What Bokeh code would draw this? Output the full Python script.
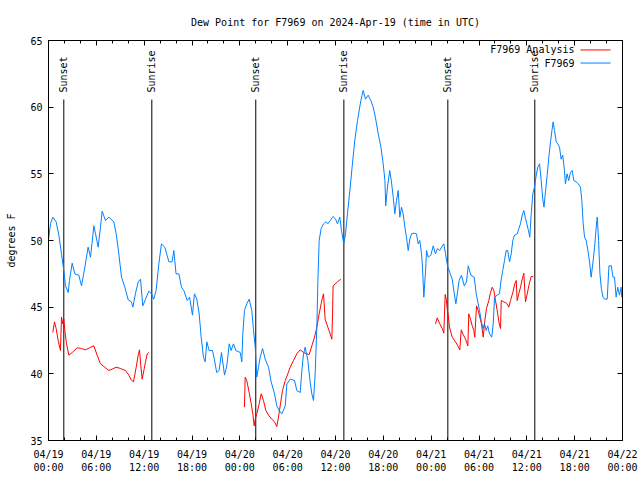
import math
from bokeh.plotting import figure
from bokeh.models import FixedTicker, LinearAxis, Range1d, Label, CustomJSTickFormatter
from bokeh.embed import file_html
from bokeh.resources import INLINE
from bokeh.core.properties import value

# ---------------- data (hours since 2024-04-19 00:00 UTC, deg F) ----------------
obs_hours = [0.0, 0.25, 0.54, 0.96, 1.3, 1.63, 1.92, 2.13, 2.47, 2.63, 2.97, 3.3, 3.8, 4.14, 4.56, 4.97,
             5.27, 5.69, 5.9, 6.23, 6.52, 6.73, 7.15, 7.57, 8.2, 8.49, 8.82, 9.16, 9.57, 10.0, 10.4, 10.58,
             10.9, 11.25, 11.54, 11.83, 12.17, 12.58, 12.92, 13.2, 13.5, 13.84, 14.17, 14.59, 15.1, 15.5,
             15.72, 16.0, 16.35, 16.68, 16.97, 17.4, 17.7, 18.06, 18.3, 18.6, 18.9, 19.15, 19.44, 19.65,
             19.86, 20.15, 20.57, 20.8, 21.1, 21.4, 21.7, 22.08, 22.37, 22.67, 22.9, 23.2, 23.5, 24.05,
             24.25, 24.37, 24.58, 24.87, 25.17, 25.5, 25.7, 25.93, 26.13, 26.34, 26.55, 26.85, 27.18, 27.6,
             27.93, 28.35, 28.64, 28.94, 29.27, 29.7, 29.9, 30.32, 30.86, 31.15, 31.57, 31.78, 31.99, 32.2,
             32.53, 32.82, 33.03, 33.24, 33.45, 33.66, 33.78, 33.95, 34.2, 34.5, 34.79, 35.04, 35.34, 35.63,
             35.71, 36.0, 36.25, 36.54, 36.75, 37.04, 37.26, 37.5, 37.8, 38.1, 38.42, 38.76, 39.18, 39.47,
             39.76, 40.1, 40.43, 40.73, 41.0, 41.36, 41.7, 41.98, 42.2, 42.3, 42.52, 42.8, 43.0, 43.24,
             43.44, 43.65, 43.86, 44.07, 44.28, 44.49, 44.7, 44.9, 45.12, 45.32, 45.54, 45.87, 46.16, 46.37,
             46.57, 46.79, 46.91, 47.08, 47.3, 47.42, 47.63, 47.96, 48.26, 48.54, 48.79, 49.08, 49.3, 49.59,
             49.8, 50.05, 50.34, 50.64, 50.9, 51.1, 51.3, 51.5, 51.8, 52.15, 52.43, 52.65, 52.97, 53.4,
             53.65, 53.85, 54.06, 54.28, 54.48, 54.69, 54.9, 55.1, 55.32, 55.6, 55.78, 55.95, 56.28, 56.57,
             56.79, 56.98, 57.2, 57.41, 57.6, 57.83, 58.04, 58.24, 58.45, 58.8, 59.0, 59.2, 59.42, 59.62,
             59.8, 60.0, 60.2, 60.37, 60.55, 60.75, 60.96, 61.18, 61.38, 61.6, 61.8, 62.0, 62.15, 62.35,
             62.55, 62.76, 62.97, 63.15, 63.3, 63.47, 63.69, 63.88, 64.1, 64.3, 64.5, 64.72, 64.84, 65.05,
             65.25, 65.47, 65.68, 65.9, 66.18, 66.47, 66.73, 66.9, 67.07, 67.24, 67.45, 67.66, 67.87, 68.07,
             68.3, 68.5, 68.7, 68.83, 69.0, 69.17, 69.35, 69.56, 69.75, 70.08, 70.3, 70.6, 70.8, 71.0, 71.2,
             71.4, 71.62, 71.83, 71.9]
obs_dewpt = [50.05, 51.25, 51.75, 51.4, 50.4, 49.0, 47.75, 46.6, 46.1, 47.0, 48.3, 47.5, 47.4, 46.6, 48.0, 49.5,
             48.75, 51.1, 50.5, 49.5, 51.0, 52.2, 51.5, 51.75, 51.4, 50.5, 49.0, 47.25, 46.5, 45.55, 45.4, 45.0,
             46.0, 46.9, 47.1, 45.1, 45.6, 46.2, 46.0, 45.6, 46.25, 48.25, 49.75, 49.5, 48.4, 48.4,
             49.25, 47.5, 47.5, 46.5, 46.25, 45.5, 45.75, 44.4, 46.0, 45.6, 44.5, 42.75, 41.25, 40.9,
             42.4, 41.75, 41.75, 41.1, 40.1, 40.25, 41.6, 39.9, 40.6, 42.25, 41.75, 42.25, 41.75, 41.6,
             40.9, 43.0, 44.75, 45.25, 45.6, 44.75, 43.4, 42.0, 39.75, 40.5, 41.25, 41.9, 41.1, 40.5,
             39.4, 38.5, 37.6, 37.25, 37.0, 37.6, 39.25, 39.6, 39.5, 38.75, 38.6, 40.25, 41.5, 42.0,
             41.0, 39.4, 38.5, 38.0, 40.0, 43.5, 46.75, 50.0, 50.9, 51.25, 51.4, 51.25, 51.5, 51.75,
             51.8, 51.6, 51.25, 51.75, 50.75, 49.75, 50.5, 52.0, 53.75, 55.6, 57.5, 59.0, 60.5, 61.25,
             60.6, 60.9, 60.5, 60.0, 59.25, 58.0, 57.0, 55.75, 54.5, 52.6, 54.0, 55.25, 54.5, 53.25,
             52.0, 53.0, 53.75, 51.75, 52.5, 52.0, 51.0, 50.25, 49.25, 50.1, 50.5, 50.55, 50.5, 49.75,
             50.0, 49.0, 48.0, 45.75, 47.75, 49.25, 48.75, 48.9, 49.6, 49.0, 49.4, 49.25, 49.5, 49.75,
             49.0, 48.1, 47.6, 47.1, 46.0, 45.25, 46.1, 47.0, 47.4, 46.6, 46.9, 48.1, 47.4, 47.25,
             46.0, 45.4, 44.75, 44.0, 43.4, 43.75, 43.25, 43.6, 43.0, 42.75, 43.75, 45.75, 45.9, 46.0,
             47.1, 47.75, 48.5, 49.25, 49.25, 48.4, 49.0, 50.0, 50.4, 50.5, 50.9, 51.25, 51.9, 52.25,
             51.75, 51.25, 50.75, 50.25, 52.0, 53.5, 54.0, 54.9, 55.5, 55.75, 54.5, 53.1, 52.5, 53.75,
             54.9, 56.25, 57.4, 58.25, 58.9, 58.25, 57.4, 57.25, 57.0, 56.1, 56.4, 55.25, 54.25, 55.0,
             54.5, 55.1, 55.25, 54.5, 54.4, 54.25, 54.0, 53.0, 51.25, 50.25, 50.0, 49.25, 48.4, 47.25,
             48.4, 49.5, 51.0, 51.75, 50.0, 47.5, 46.4, 45.75, 45.6, 45.6, 48.1, 48.1, 47.25, 47.25, 45.75,
             46.5, 45.9, 46.5, 45.75]

nan = float("nan")
ana_hours = [0.54, 0.75, 0.96, 1.21, 1.5, 1.63, 1.8, 1.92, 2.05, 2.26, 2.55, 2.97, 3.6, 4.14, 4.64, 5.14,
             5.69, 6.1, 6.52, 7.06, 7.57, 7.98, 8.49, 9.03, 9.66, 10.08, 10.37, 10.66, 11.0, 11.25, 11.42,
             11.58, 11.75, 11.96, 12.17, 12.38, 12.58,
             18.0,
             24.58, 24.67, 24.87, 25.17, 25.43, 25.63, 25.8, 25.93, 26.13, 26.43, 26.68, 26.97, 27.26, 27.6,
             28.0, 28.35, 28.64, 28.85, 29.1, 29.35, 29.7, 30.02, 30.32, 30.73, 31.15, 31.57, 31.99, 32.4,
             32.7, 33.03, 33.37, 33.66, 33.95, 34.2, 34.37, 34.5, 34.7, 35.04, 35.33, 35.54, 35.63, 35.7,
             36.25, 36.67,
             42.0,
             48.54, 48.76, 49.08, 49.39, 49.59, 49.67, 49.76, 49.89, 50.01, 50.14, 50.3, 50.64, 51.05, 51.34,
             51.59, 51.77, 52.02, 52.31, 52.6, 52.72, 52.93, 53.15, 53.35, 53.47, 53.69, 53.9, 54.1, 54.31,
             54.53, 54.73, 54.94, 55.23, 55.44, 55.66, 55.86, 56.07, 56.28, 56.54, 56.7, 56.79, 57.11, 57.45,
             57.74, 57.95, 58.24, 58.49, 58.67, 58.79, 58.99, 59.21, 59.42, 59.62, 59.83, 60.05, 60.3, 60.55,
             60.8]
ana_dewpt = [43.1, 43.9, 43.4, 42.5, 41.75, 44.25, 43.75, 44.1, 43.25, 42.25, 41.4, 41.6, 41.95, 41.9, 41.8, 41.95,
             42.1, 41.4, 40.75, 40.5, 40.25, 40.35, 40.5, 40.4, 40.25, 39.9, 39.55, 39.4, 40.5, 41.4, 41.8,
             40.6, 39.6, 40.25, 40.9, 41.5, 41.6,
             nan,
             37.5, 39.75, 39.5, 38.6, 37.75, 37.0, 36.1, 36.6, 37.0, 37.75, 38.5, 38.0, 37.25, 36.9,
             36.6, 36.4, 36.05, 36.75, 37.75, 38.75, 39.5, 40.0, 40.5, 41.0, 41.5, 41.8, 41.6, 41.5,
             41.45, 42.1, 42.75, 43.5, 44.5, 45.25, 45.75, 46.0, 44.1, 43.5, 43.0, 42.6, 44.5, 46.6,
             46.9, 47.1,
             nan,
             43.75, 44.2, 43.75, 43.4, 43.05, 44.5, 45.95, 45.6, 44.9, 44.4, 43.5, 42.75, 42.4, 42.1,
             41.8, 43.3, 42.95, 42.6, 42.1, 44.5, 44.1, 43.6, 43.25, 42.75, 45.1, 44.75, 44.25, 43.75,
             42.75, 44.0, 44.9, 45.5, 46.1, 46.5, 46.25, 45.5, 44.75, 43.75, 43.4, 45.5, 45.4, 45.3,
             45.0, 45.5, 46.1, 46.75, 47.0, 45.5, 46.0, 46.5, 47.1, 47.55, 45.4, 46.0, 46.75, 47.3,
             47.3]

sunset_hours = [1.92, 26.0, 50.09]
sunrise_hours = [12.96, 37.05, 61.0]

x_tick_hours = [0, 6, 12, 18, 24, 30, 36, 42, 48, 54, 60, 66, 72]
x_tick_labels = ["04/19\n00:00", "04/19\n06:00", "04/19\n12:00", "04/19\n18:00",
                 "04/20\n00:00", "04/20\n06:00", "04/20\n12:00", "04/20\n18:00",
                 "04/21\n00:00", "04/21\n06:00", "04/21\n12:00", "04/21\n18:00",
                 "04/22\n00:00"]
x_minor_hours = list(range(0, 73, 2))
y_ticks = [35, 40, 45, 50, 55, 60, 65]

series_names = ["F7969 Analysis", "F7969"]
series_colors = ["#ff0000", "#0080ff"]

# ---------------- styling ----------------
FONT = "DejaVu Sans Mono"
FS = "10px"

p = figure(frame_width=574, frame_height=400,
           x_range=Range1d(0, 72), y_range=Range1d(35, 65),
           output_backend="svg", toolbar_location=None,
           min_border_left=48, min_border_right=18, min_border_top=40, min_border_bottom=40,
           background_fill_color="white", border_fill_color="white")

p.title.text = "Dew Point for F7969 on 2024-Apr-19 (time in UTC)"
p.title.align = "center"
p.title.vertical_align = "top"
p.title.text_font = FONT
p.title.text_font_size = FS
p.title.text_font_style = "normal"
p.title.text_color = "black"
p.title.standoff = 22

p.xgrid.visible = False
p.ygrid.visible = False
p.outline_line_color = "black"

xt = FixedTicker(ticks=x_tick_hours, minor_ticks=x_minor_hours)
yt = FixedTicker(ticks=y_ticks, minor_ticks=[])

def style_axis(ax):
    ax.axis_line_color = "black"
    ax.major_tick_line_color = "black"
    ax.minor_tick_line_color = "black"
    ax.major_tick_in = 5
    ax.major_tick_out = 0
    ax.minor_tick_in = 3
    ax.minor_tick_out = 0
    ax.major_label_text_font = FONT
    ax.major_label_text_font_size = FS
    ax.major_label_text_color = "black"

xa = p.xaxis[0]
xa.ticker = xt
style_axis(xa)
xa.major_label_overrides = {h: lbl for h, lbl in zip(x_tick_hours, x_tick_labels)}
xa.major_label_standoff = 8

ya = p.yaxis[0]
ya.ticker = yt
style_axis(ya)
ya.minor_tick_in = 0
ya.major_label_standoff = 6
ya.axis_label = "degrees F"
ya.axis_label_text_font = FONT
ya.axis_label_text_font_size = FS
ya.axis_label_text_font_style = "normal"
ya.axis_label_text_color = "black"
ya.axis_label_standoff = 10

blank = CustomJSTickFormatter(code="return '';")

top = LinearAxis(ticker=xt, formatter=blank)
style_axis(top)
top.major_label_standoff = 0
p.add_layout(top, "above")

right = LinearAxis(ticker=yt, formatter=blank)
style_axis(right)
right.minor_tick_in = 0
right.major_label_standoff = 0
p.add_layout(right, "right")

# sunrise / sunset markers
sun_x = sunset_hours + sunrise_hours
sun_txt = ["Sunset"] * len(sunset_hours) + ["Sunrise"] * len(sunrise_hours)
p.segment(x0=sun_x, y0=[35] * len(sun_x), x1=sun_x, y1=[60.57] * len(sun_x),
          line_color="black", line_width=1)
p.text(x=sun_x, y=[61.1] * len(sun_x), text=sun_txt, angle=math.pi / 2,
       text_align="left", text_baseline="middle", text_font=value(FONT),
       text_font_size=FS, text_color="black")

# data series
p.line(ana_hours, ana_dewpt, line_color=series_colors[0], line_width=1)
p.line(obs_hours, obs_dewpt, line_color=series_colors[1], line_width=1)

# gnuplot-style key (text right-aligned, sample to the right)
key_rows_y = [64.29, 63.31]
for name, col, ky in zip(series_names, series_colors, key_rows_y):
    p.add_layout(Label(x=65.98, y=ky, text=name, text_align="right", text_baseline="middle",
                       text_font=FONT, text_font_size=FS, text_color="black"))
    p.segment(x0=[66.73], y0=[ky], x1=[70.5], y1=[ky], line_color=col, line_width=1)

open("out.html", "w").write(file_html(p, INLINE))
